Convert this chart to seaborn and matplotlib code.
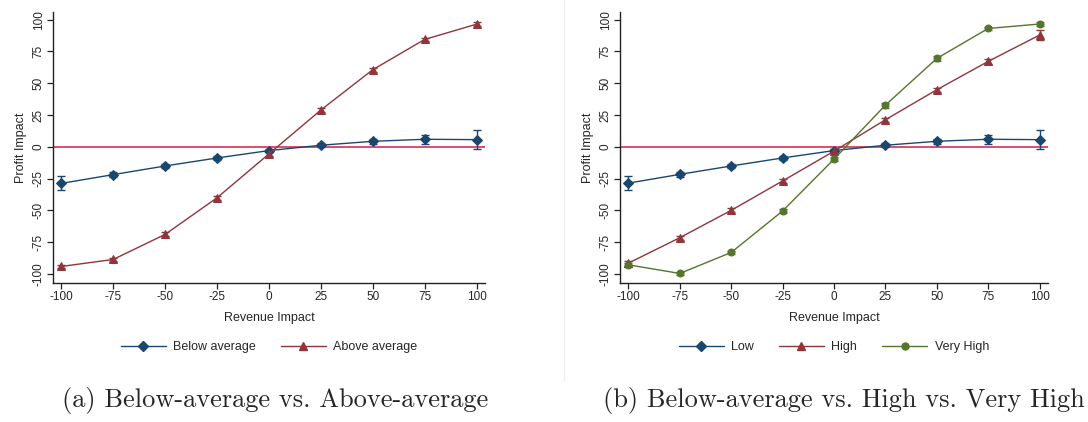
import matplotlib
matplotlib.use("Agg")
import matplotlib.pyplot as plt
from matplotlib.lines import Line2D
import seaborn as sns
import pandas as pd

sns.set_style("white")
plt.rcParams['font.family'] = ['Liberation Sans', 'DejaVu Sans']

# Data
revenue = [-100, -75, -50, -25, 0, 25, 50, 75, 100]

below_avg = [-28.7, -21.8, -15.0, -8.7, -2.9, 1.3, 4.4, 6.0, 5.7]
below_err = [5.5, 2.0, 1.5, 1.5, 1.5, 1.5, 2.0, 3.5, 7.5]
above_avg = [-94.0, -88.5, -68.8, -40.0, -5.5, 29.0, 60.7, 84.5, 96.5]
above_err = [1.5, 1.5, 1.5, 1.5, 1.5, 1.5, 1.5, 1.5, 1.5]

low = [-28.5, -21.6, -15.0, -8.7, -2.9, 1.3, 4.4, 6.0, 5.7]
low_err = [5.5, 2.0, 1.5, 1.5, 1.5, 1.5, 2.0, 3.5, 7.5]
high = [-91.4, -71.4, -49.9, -26.8, -3.4, 21.3, 44.9, 67.2, 87.9]
high_err = [2.0, 1.5, 1.5, 1.5, 1.5, 1.5, 1.5, 2.0, 4.0]
very_high = [-92.7, -99.5, -83.0, -50.4, -9.7, 32.8, 69.5, 93.1, 96.6]
very_high_err = [1.5, 1.5, 1.5, 1.5, 1.5, 2.0, 2.0, 1.5, 1.5]

ticks = [-100, -75, -50, -25, 0, 25, 50, 75, 100]

blue = "#1a476f"
red = "#90353b"
green = "#55752f"
zero_red = "#d21f47"

fig = plt.figure(figsize=(10.88, 4.22), dpi=100)
ax1 = fig.add_axes([0.0487, 0.3294, 0.397, 0.642])
ax2 = fig.add_axes([0.570, 0.3294, 0.393, 0.642])


def draw(ax, series):
    ax.axhline(0, color=zero_red, lw=1.1, zorder=1)
    handles = []
    for name, y, err, col, mk, ms in series:
        df = pd.DataFrame({"x": revenue, "y": y})
        ax.errorbar(revenue, y, yerr=err, fmt="none", ecolor=col,
                    elinewidth=1.0, capsize=3, capthick=1.0, zorder=2)
        sns.lineplot(data=df, x="x", y="y", ax=ax, color=col, lw=1.0,
                     marker=mk, markersize=ms, markeredgecolor=col,
                     markerfacecolor=col, zorder=3)
        handles.append(Line2D([0], [0], color=col, lw=1.0, marker=mk,
                              markersize=ms, markeredgecolor=col,
                              markerfacecolor=col, label=name))
    ax.set_xlim(-104, 104)
    ax.set_ylim(-107, 106)
    ax.set_xticks(ticks)
    ax.set_yticks(ticks)
    ax.set_xticklabels([str(t) for t in ticks], fontsize=8.5)
    ax.set_yticklabels([str(t) for t in ticks], fontsize=8.5,
                       rotation=90, va="center")
    ax.set_xlabel("Revenue Impact", fontsize=9, labelpad=6)
    ax.set_ylabel("Profit Impact", fontsize=9, labelpad=4)
    for s in ["top", "right"]:
        ax.spines[s].set_visible(False)
    for s in ["left", "bottom"]:
        ax.spines[s].set_color("#222222")
        ax.spines[s].set_linewidth(1.0)
    ax.tick_params(axis="both", direction="out", length=4, width=0.9,
                   color="#222222", left=True, bottom=True, pad=2)
    ax.legend(handles=handles, loc="center", bbox_to_anchor=(0.5, -0.236),
              ncol=len(handles), frameon=False, fontsize=9,
              handlelength=3.6, columnspacing=2.0, handletextpad=0.6)


draw(ax1, [("Below average", below_avg, below_err, blue, "D", 5),
           ("Above average", above_avg, above_err, red, "^", 6)])
draw(ax2, [("Low", low, low_err, blue, "D", 5),
           ("High", high, high_err, red, "^", 6),
           ("Very High", very_high, very_high_err, green, "o", 5)])

# faint divider between panels
fig.add_artist(Line2D([0.518, 0.518], [0.10, 1.0], color="#f0f0f0", lw=1))

cap = dict(fontsize=19, family="cmr10", ha="center", va="center")
fig.text(0.253, 0.052, "(a) Below-average vs. Above-average", **cap)
fig.text(0.776, 0.052, "(b) Below-average vs. High vs. Very High", **cap)

fig.savefig("out.png", dpi=100)
